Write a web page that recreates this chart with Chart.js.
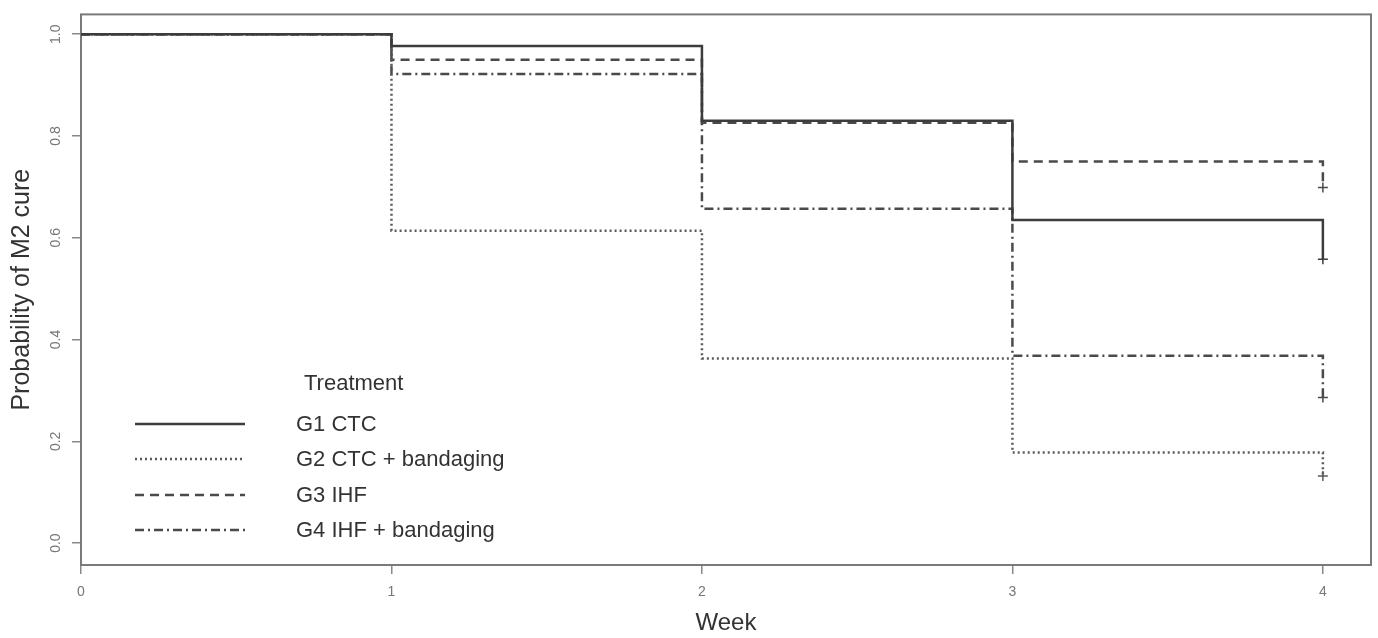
<!DOCTYPE html>
<html lang="en">
<head>
    <meta charset="UTF-8" />
    <title>Probability of M2 cure by week</title>
    <script src="https://cdn.jsdelivr.net/npm/chart.js"></script>
    <style>
        * {
            box-sizing: border-box;
            margin: 0;
            padding: 0;
        }
        body {
            background: #fff;
            font-family: "Liberation Sans", Arial, sans-serif;
        }
        .wrap {
            position: relative;
            width: 1378px;
            height: 638px;
        }
        .legend {
            position: absolute;
            left: 135px;
            top: 368px;
            color: #333;
            font-size: 22px;
        }
        .legend .head {
            padding-left: 169px;
            height: 38px;
            line-height: 30px;
        }
        .legend .row {
            display: flex;
            align-items: center;
            height: 35.5px;
        }
        .legend svg {
            width: 110px;
            height: 10px;
            margin-right: 51px;
        }
    </style>
</head>
<body>
    <div class="wrap">
        <canvas id="kmChart"></canvas>
        <div class="legend" id="legend"></div>
    </div>

    <script>
        // Kaplan-Meier estimates
        const weeks = [0, 1, 2, 3, 4];
        const groups = ['G1 CTC', 'G2 CTC + bandaging', 'G3 IHF', 'G4 IHF + bandaging'];
        const g1 = [1, 0.977, 0.830, 0.635, 0.558];
        const g2 = [1, 0.614, 0.363, 0.178, 0.132];
        const g3 = [1, 0.950, 0.826, 0.750, 0.699];
        const g4 = [1, 0.922, 0.657, 0.368, 0.286];
        const xTicks = [0, 1, 2, 3, 4];
        const yTicks = [0, 0.2, 0.4, 0.6, 0.8, 1.0];

        const styles = [
            { color: '#3c3c3c', dash: [] },
            { color: '#5a5a5a', dash: [2, 3] },
            { color: '#4a4a4a', dash: [9, 6] },
            { color: '#4a4a4a', dash: [9, 4, 2, 4] }
        ];

        const series = [g1, g2, g3, g4];

        const datasets = series.map((vals, i) => ({
            label: groups[i],
            data: weeks.map((w, j) => ({ x: w, y: vals[j] })),
            borderColor: styles[i].color,
            borderDash: styles[i].dash,
            borderWidth: 2.5,
            stepped: true,
            fill: false,
            pointStyle: 'cross',
            pointRadius: weeks.map((w, j) => (j === weeks.length - 1 ? 5 : 0)),
            pointBorderWidth: 1.5,
            pointBorderColor: styles[i].color
        }));

        // box round the plot region
        const boxPlugin = {
            id: 'box',
            beforeDatasetsDraw(chart) {
                const { ctx, chartArea: a } = chart;
                ctx.save();
                ctx.strokeStyle = '#7a7a7a';
                ctx.lineWidth = 2;
                ctx.strokeRect(a.left, a.top, a.right - a.left, a.bottom - a.top);
                ctx.restore();
            }
        };

        const tickFont = { family: '"Liberation Sans", Arial, sans-serif', size: 14 };

        new Chart(document.getElementById('kmChart'), {
            type: 'line',
            data: { datasets: datasets },
            options: {
                responsive: true,
                maintainAspectRatio: false,
                animation: false,
                layout: { padding: { top: 12, right: 7, left: 0, bottom: 0 } },
                plugins: {
                    legend: { display: false },
                    tooltip: { enabled: false }
                },
                scales: {
                    x: {
                        type: 'linear',
                        min: 0,
                        max: 4.155,
                        afterBuildTicks: s => { s.ticks = xTicks.map(v => ({ value: v })); },
                        afterFit: s => { s.height = 73; },
                        border: { display: false },
                        grid: {
                            drawOnChartArea: false,
                            drawTicks: true,
                            tickLength: 9,
                            tickColor: '#888',
                            lineWidth: 1.5
                        },
                        ticks: {
                            color: '#777',
                            font: tickFont,
                            padding: 10,
                            maxRotation: 0,
                            callback: v => String(v)
                        },
                        title: {
                            display: true,
                            text: 'Week',
                            color: '#333',
                            font: { family: '"Liberation Sans", Arial, sans-serif', size: 24 },
                            padding: { top: 0, bottom: 0 }
                        }
                    },
                    y: {
                        min: -0.043,
                        max: 1.039,
                        afterBuildTicks: s => { s.ticks = yTicks.map(v => ({ value: v })); },
                        afterFit: s => { s.width = 81; },
                        border: { display: false },
                        grid: {
                            drawOnChartArea: false,
                            drawTicks: true,
                            tickLength: 9,
                            tickColor: '#888',
                            lineWidth: 1.5
                        },
                        ticks: {
                            color: '#777',
                            font: tickFont,
                            padding: 6,
                            minRotation: 90,
                            maxRotation: 90,
                            crossAlign: 'center',
                            callback: v => v.toFixed(1)
                        },
                        title: {
                            display: true,
                            text: 'Probability of M2 cure',
                            color: '#333',
                            font: { family: '"Liberation Sans", Arial, sans-serif', size: 25 },
                            padding: { top: 7, bottom: 0 }
                        }
                    }
                }
            },
            plugins: [boxPlugin]
        });

        // legend drawn from the same names and line styles
        const legend = document.getElementById('legend');
        let html = '<div class="head">Treatment</div>';
        groups.forEach((name, i) => {
            html += '<div class="row"><svg viewBox="0 0 110 10">' +
                '<line x1="0" y1="5" x2="110" y2="5" stroke="' + styles[i].color +
                '" stroke-width="2.5" stroke-dasharray="' + (styles[i].dash.join(' ') || 'none') +
                '"/></svg><span>' + name + '</span></div>';
        });
        legend.innerHTML = html;
    </script>
</body>
</html>
